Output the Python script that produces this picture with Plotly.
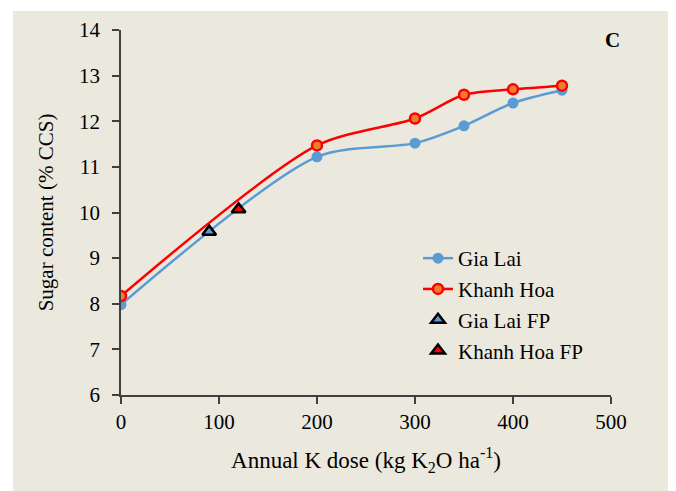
import plotly.graph_objects as go

dose = [0, 200, 300, 350, 400, 450]
gia_lai = [7.98, 11.22, 11.52, 11.9, 12.4, 12.68]
khanh_hoa = [8.17, 11.47, 12.06, 12.58, 12.7, 12.78]
gl_fp_x = [90]
gl_fp_y = [9.58]
kh_fp_x = [120]
kh_fp_y = [10.07]

FONT = "Liberation Serif, Times New Roman, serif"
BG = "#EBE8DE"
AX = "#404040"

fig = go.Figure()
fig.add_trace(go.Scatter(x=dose, y=gia_lai, name="Gia Lai", mode="lines+markers", legendgroup="a",
                         line=dict(color="#5B9BD5", width=2.5, shape="spline", smoothing=0.8),
                         marker=dict(color="#5B9BD5", size=11, line=dict(width=0))))
fig.add_trace(go.Scatter(x=dose, y=khanh_hoa, name="Khanh Hoa", mode="lines+markers", legendgroup="b",
                         line=dict(color="#FF0000", width=2.5, shape="spline", smoothing=0.8),
                         marker=dict(color="#ED7D31", size=10, line=dict(color="#FF0000", width=2.5))))
fig.add_trace(go.Scatter(x=gl_fp_x, y=gl_fp_y, name="Gia Lai FP", mode="markers", legendgroup="c",
                         marker=dict(symbol="triangle-up", color="#5B9BD5", size=12,
                                     line=dict(color="black", width=2.5))))
fig.add_trace(go.Scatter(x=kh_fp_x, y=kh_fp_y, name="Khanh Hoa FP", mode="markers", legendgroup="d",
                         marker=dict(symbol="triangle-up", color="#FF0000", size=12,
                                     line=dict(color="black", width=2.5))))

# figure pixel coords (page body has 8px margin)
L, R, T, B = 113, 73, 22, 104
W, H = 676, 491
pw, ph = W - L - R, H - T - B
def px(x): return (x - L) / pw
def py(y): return (H - B - y) / ph

fig.add_shape(type="rect", xref="paper", yref="paper", layer="below",
              x0=px(5), x1=px(663), y0=py(495), y1=py(3),
              fillcolor=BG, line=dict(width=0))

fig.add_annotation(text="<b>C</b>", xref="paper", yref="paper", x=px(604), y=py(32),
                   xanchor="center", yanchor="middle",
                   showarrow=False, font=dict(family=FONT, size=21, color="black"))

fig.update_layout(
    width=W, height=H,
    margin=dict(l=L, r=R, t=T, b=B, autoexpand=False),
    paper_bgcolor="white", plot_bgcolor=BG,
    font=dict(family=FONT, size=21, color="black"),
    showlegend=True,
    legend=dict(x=px(410), y=py(230), xanchor="left", yanchor="top", tracegroupgap=0.5,
                bgcolor="rgba(0,0,0,0)", font=dict(family=FONT, size=21)),
    xaxis=dict(range=[0, 500], tickvals=[0, 100, 200, 300, 400, 500],
               showgrid=False, zeroline=False, showline=True, linecolor=AX, linewidth=1.5,
               ticks="outside", ticklen=7, tickcolor=AX, tickwidth=1.5,
               tickfont=dict(size=21), automargin=False, ticklabelstandoff=0,
               title=dict(text="Annual K dose (kg K<sub>2</sub>O ha<sup>-1</sup>)", font=dict(size=23), standoff=19)),
    yaxis=dict(range=[6, 14], tickvals=list(range(6, 15)),
               showgrid=False, zeroline=False, showline=True, linecolor=AX, linewidth=1.5,
               ticks="outside", ticklen=7, tickcolor=AX, tickwidth=1.5,
               tickfont=dict(size=21), automargin=False, ticklabelstandoff=8,
               title=dict(text="Sugar content (% CCS)", font=dict(size=21), standoff=20)),
)
fig.write_html("out.html")
